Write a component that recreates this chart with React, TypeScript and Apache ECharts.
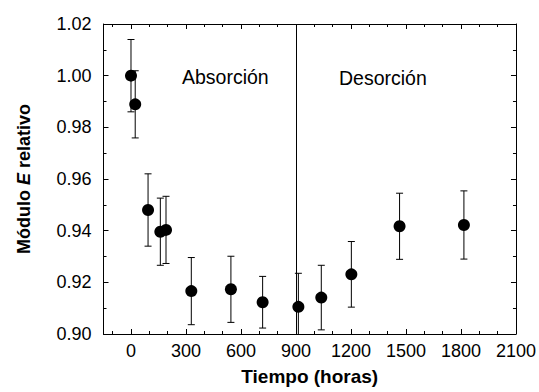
import React, { useEffect, useRef } from "react";
import * as echarts from "echarts";

const timeHours = [0, 23, 93, 160, 191, 329, 545, 718, 913, 1038, 1202, 1465, 1816];
const relModulus = [1.0, 0.9889, 0.948, 0.9396, 0.9403, 0.9166, 0.9173, 0.9123, 0.9105, 0.9141, 0.9231, 0.9417, 0.9422];
const errors = [0.014, 0.013, 0.014, 0.013, 0.013, 0.013, 0.0128, 0.01, 0.013, 0.0125, 0.0127, 0.0128, 0.0132];
const xMajorTicks = [0, 300, 600, 900, 1200, 1500, 1800, 2100];
const xMinorTicks = [-100, 100, 200, 400, 500, 700, 800, 1000, 1100, 1300, 1400, 1600, 1700, 1900, 2000];
const yMin = 0.9;
const yMax = 1.02;
const yStep = 0.02;
const boundaryTime = 900;

const FONT = "'Liberation Sans', Arial, sans-serif";

export default function App() {
  const ref = useRef<HTMLDivElement>(null);
  useEffect(() => {
    if (!ref.current) return;
    const chart = echarts.init(ref.current, null, { renderer: "svg" });
    const xBase = (pos: string, ticks: number[], len: number, showLine: boolean, labels: boolean) => ({
      type: "value",
      position: pos,
      min: -150,
      max: 2100,
      gridIndex: 0,
      axisLine: { show: showLine, onZero: false, lineStyle: { color: "#000", width: 1 } },
      axisTick: { show: true, inside: true, length: len, customValues: ticks, lineStyle: { color: "#000", width: 1 } },
      axisLabel: labels
        ? {
            show: true,
            customValues: ticks,
            fontSize: 18,
            color: "#000",
            fontFamily: FONT,
            margin: 8,
            formatter: (v: number) => String(v),
          }
        : { show: false },
      splitLine: { show: false },
    });
    const yBase = (pos: string, labels: boolean) => ({
      type: "value",
      position: pos,
      min: yMin,
      max: yMax,
      interval: yStep,
      axisLine: { show: true, onZero: false, lineStyle: { color: "#000", width: 1 } },
      axisTick: { show: true, inside: true, length: 5, lineStyle: { color: "#000", width: 1 } },
      minorTick: { show: true, splitNumber: 2, length: 3, lineStyle: { color: "#000", width: 1 } },
      axisLabel: labels
        ? {
            show: true,
            fontSize: 18,
            color: "#000",
            fontFamily: FONT,
            margin: 12,
            formatter: (v: number) => v.toFixed(2),
          }
        : { show: false },
      splitLine: { show: false },
    });
    const xMain: any = xBase("bottom", xMajorTicks, 5, true, true);
    xMain.name = "Tiempo (horas)";
    xMain.nameLocation = "middle";
    xMain.nameGap = 33;
    xMain.nameTextStyle = { fontSize: 19, fontWeight: "bold", color: "#000", fontFamily: FONT };
    const yMain: any = yBase("left", true);
    yMain.name = "Módulo {i|E} relativo";
    yMain.nameLocation = "middle";
    yMain.nameGap = 71;
    yMain.nameTextStyle = {
      fontSize: 18,
      fontWeight: "bold",
      color: "#000",
      fontFamily: FONT,
      rich: {
        i: { fontSize: 18, fontWeight: "bold", fontStyle: "italic", color: "#000", fontFamily: FONT },
      },
    };

    const points = timeHours.map((t, i) => [t, relModulus[i]]);
    const errData = timeHours.map((t, i) => [t, relModulus[i], errors[i]]);

    chart.setOption({
      animation: false,
      backgroundColor: "#fff",
      grid: { left: 103.5, top: 24, right: 22.5, bottom: 58, containLabel: false },
      xAxis: [
        xMain,
        xBase("bottom", xMinorTicks, 3, false, false),
        xBase("top", xMajorTicks, 5, true, false),
        xBase("top", xMinorTicks, 3, false, false),
      ],
      yAxis: [yMain, yBase("right", false)],
      graphic: [
        {
          type: "text",
          left: 182,
          top: 67,
          style: { text: "Absorción", fontSize: 19.5, fill: "#000", fontFamily: FONT },
        },
        {
          type: "text",
          left: 339,
          top: 68,
          style: { text: "Desorción", fontSize: 19.5, fill: "#000", fontFamily: FONT },
        },
      ],
      series: [
        {
          type: "custom",
          xAxisIndex: 0,
          yAxisIndex: 0,
          z: 2,
          data: errData,
          renderItem: (params: any, api: any) => {
            const x = api.value(0);
            const y = api.value(1);
            const e = api.value(2);
            const hiV = Math.min(y + e, yMax);
            const loV = Math.max(y - e, yMin);
            const hi = api.coord([x, hiV]);
            const lo = api.coord([x, loV]);
            const w = 3.5;
            const style = { stroke: "#000", lineWidth: 1 };
            const children: any[] = [
              { type: "line", shape: { x1: hi[0], y1: hi[1], x2: lo[0], y2: lo[1] }, style },
            ];
            if (y + e <= yMax)
              children.push({ type: "line", shape: { x1: hi[0] - w, y1: hi[1], x2: hi[0] + w, y2: hi[1] }, style });
            if (y - e >= yMin)
              children.push({ type: "line", shape: { x1: lo[0] - w, y1: lo[1], x2: lo[0] + w, y2: lo[1] }, style });
            return { type: "group", children };
          },
        },
        {
          type: "scatter",
          xAxisIndex: 0,
          yAxisIndex: 0,
          z: 3,
          symbol: "circle",
          symbolSize: 12,
          itemStyle: { color: "#000", opacity: 1 },
          data: points,
          markLine: {
            silent: true,
            symbol: ["none", "none"],
            label: { show: false },
            lineStyle: { color: "#000", width: 1, type: "solid" },
            data: [{ xAxis: boundaryTime }],
          },
        },
      ],
    });
    return () => chart.dispose();
  }, []);
  return (
    <div
      ref={ref}
      style={{ position: "fixed", left: 0, top: 0, width: 539, height: 392, background: "#fff" }}
    />
  );
}
